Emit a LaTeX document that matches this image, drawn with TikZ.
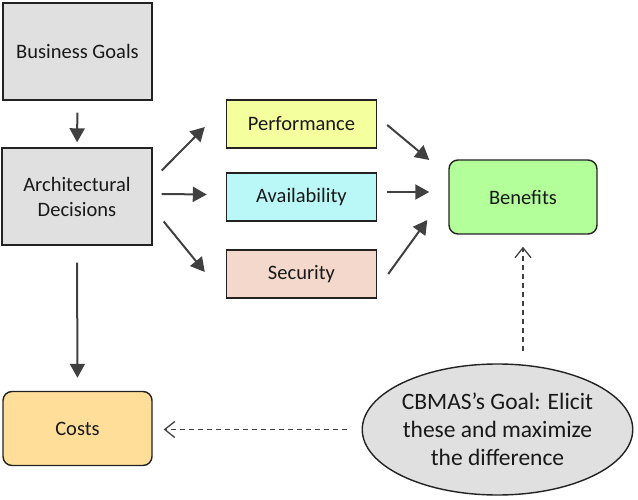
\documentclass[tikz,border=0pt]{standalone}
\usepackage{fontspec}
\setmainfont{Carlito}
\usepackage{tikz}
\usetikzlibrary{arrows.meta, shapes.geometric}
\definecolor{boxgray}{RGB}{224,224,224}
\definecolor{perfcol}{RGB}{244,255,158}
\definecolor{availcol}{RGB}{186,247,247}
\definecolor{seccol}{RGB}{243,216,203}
\definecolor{bencol}{RGB}{179,255,153}
\definecolor{costcol}{RGB}{255,222,153}
\definecolor{edge}{RGB}{34,34,34}
\definecolor{arrcol}{RGB}{64,64,64}

\begin{document}
\begin{tikzpicture}[x=1pt, y=1pt,
  box/.style={draw=edge, line width=1.4pt, align=center, text=black!90,
    font=\fontsize{20.5}{25}\selectfont},
  quality/.style={box, minimum width=150pt, minimum height=48pt},
  outcome/.style={box, rounded corners=9pt, minimum width=148pt, minimum height=74pt},
  arr/.style={draw=arrcol, line width=2pt, -{Triangle[length=14pt,width=15pt]}},
  dasharr/.style={draw=arrcol, line width=1.3pt, dash pattern=on 5pt off 4pt,
    -{Straight Barb[length=10pt,width=16pt]}}]
 \useasboundingbox (0,0) rectangle (638,499);
 \node[box, fill=boxgray, minimum width=149pt, minimum height=97pt] (goals) at (77.5,447.5) {Business Goals};
 \node[box, fill=boxgray, minimum width=150pt, minimum height=97pt] (decisions) at (77,302.5) {Architectural\\Decisions};
 \node[quality, fill=perfcol] (perf) at (301.5,375) {Performance};
 \node[quality, fill=availcol] (avail) at (301.5,302) {Availability};
 \node[quality, fill=seccol] (sec) at (301.5,225) {Security};
 \node[outcome, fill=bencol] (benefits) at (523,302) {Benefits};
 \node[outcome, fill=costcol, minimum width=149pt] (costs) at (77.5,70.5) {Costs};
 \node[ellipse, draw=edge, line width=1.4pt, fill=boxgray, minimum width=269pt, minimum height=131pt,
   inner sep=0pt, align=center, text=black!90, font=\fontsize{23.5}{28}\selectfont] (goal) at (497.5,69.5)
   {CBMAS's Goal: Elicit\\these and maximize\\the difference};
 % solid arrows
 \draw[arr, shorten <=12pt, shorten >=5pt] (goals.south) -- (decisions.north);
 \draw[arr, shorten <=17pt, shorten >=13pt] (decisions.south) -- (costs.north);
 \draw[arr] ([xshift=9pt,yshift=26pt]decisions.east) -- ([xshift=-21pt,yshift=-3pt]perf.west);
 \draw[arr] ([xshift=9pt,yshift=2.5pt]decisions.east) -- ([xshift=-19pt,yshift=2.5pt]avail.west);
 \draw[arr] ([xshift=11pt,yshift=-25pt]decisions.east) -- ([xshift=-21pt,yshift=2pt]sec.west);
 \draw[arr] ([xshift=10pt,yshift=-1pt]perf.east) -- ([xshift=-19pt,yshift=37pt]benefits.west);
 \draw[arr] ([xshift=10pt,yshift=5pt]avail.east) -- ([xshift=-19pt,yshift=5pt]benefits.west);
 \draw[arr] ([xshift=11pt]sec.east) -- ([xshift=-21pt,yshift=-23pt]benefits.west);
 % dashed arrows
 \draw[dasharr, shorten <=12pt, shorten >=12pt] (goal.north -| benefits.south) -- (benefits.south);
 \draw[dasharr, shorten <=15pt, shorten >=11pt] (goal.west) -- (goal.west -| costs.east);
\end{tikzpicture}
\end{document}
